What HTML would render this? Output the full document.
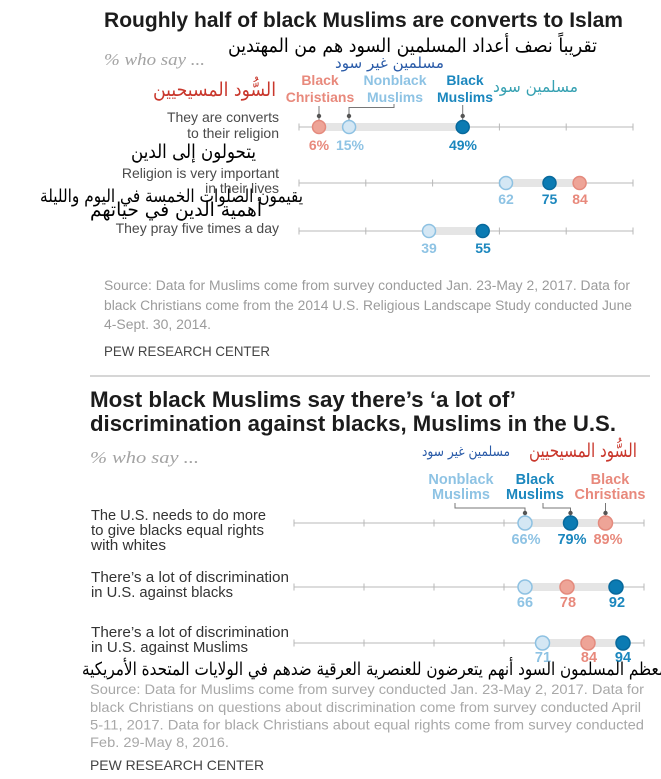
<!DOCTYPE html>
<html><head><meta charset="utf-8"><style>
html,body{margin:0;padding:0;background:#fff;}
svg{display:block;}
</style></head><body>
<svg width="661" height="779" viewBox="0 0 661 779" xmlns="http://www.w3.org/2000/svg" font-family="'Liberation Sans', sans-serif">
<rect width="661" height="779" fill="#fff"/>

<!-- ===== TOP CHART ===== -->
<text x="104" y="27" font-size="21" font-weight="bold" fill="#1c1c1c" textLength="519" lengthAdjust="spacingAndGlyphs">Roughly half of black Muslims are converts to Islam</text>
<text x="104" y="65" font-family="'Liberation Serif', serif" font-style="italic" font-size="17" fill="#a3a3a3" textLength="101" lengthAdjust="spacingAndGlyphs">% who say ...</text>

<!-- legend labels -->
<g font-size="14" font-weight="bold" text-anchor="middle">
<text x="320" y="85" fill="#e8897c">Black</text>
<text x="320" y="102" fill="#e8897c">Christians</text>
<text x="395" y="85" fill="#8ec3e4">Nonblack</text>
<text x="395" y="102" fill="#8ec3e4">Muslims</text>
<text x="465" y="85" fill="#1b87be">Black</text>
<text x="465" y="102" fill="#1b87be">Muslims</text>
</g>
<g stroke="#777" stroke-width="1" fill="none">
<path d="M319 106 V120"/>
<path d="M394 104 V107.5 H349 V120"/>
<path d="M462.7 105 V120"/>
</g>
<g fill="#555">
<circle cx="319" cy="116" r="2.2"/>
<circle cx="349" cy="116" r="2.2"/>
<circle cx="462.7" cy="116" r="2.2"/>
</g>

<!-- axes top -->
<g stroke="#b8b8b8" stroke-width="1">
<line x1="299" y1="127" x2="633" y2="127"/>
<line x1="299" y1="183" x2="633" y2="183"/>
<line x1="299" y1="231" x2="633" y2="231"/>
<path d="M299 123.5V130.5 M365.8 123.5V130.5 M432.6 123.5V130.5 M499.4 123.5V130.5 M566.2 123.5V130.5 M633 123.5V130.5"/>
<path d="M299 179.5V186.5 M365.8 179.5V186.5 M432.6 179.5V186.5 M499.4 179.5V186.5 M566.2 179.5V186.5 M633 179.5V186.5"/>
<path d="M299 227.5V234.5 M365.8 227.5V234.5 M432.6 227.5V234.5 M499.4 227.5V234.5 M566.2 227.5V234.5 M633 227.5V234.5"/>
</g>
<g fill="#e5e5e5">
<rect x="319" y="123" width="143.7" height="8"/>
<rect x="506" y="179" width="73.6" height="8"/>
<rect x="429" y="227" width="53.7" height="8"/>
</g>
<!-- dots top -->
<g stroke-width="1.5">
<circle cx="319" cy="127" r="6.5" fill="#eea497" stroke="#e48a7d"/>
<circle cx="349.1" cy="127" r="6.5" fill="#d4e7f4" stroke="#8dc1e2"/>
<circle cx="462.7" cy="127" r="6.5" fill="#0b7bb3" stroke="#08699c"/>
<circle cx="506" cy="183" r="6.5" fill="#d4e7f4" stroke="#8dc1e2"/>
<circle cx="549.5" cy="183" r="6.5" fill="#0b7bb3" stroke="#08699c"/>
<circle cx="579.6" cy="183" r="6.5" fill="#eea497" stroke="#e48a7d"/>
<circle cx="429" cy="231" r="6.5" fill="#d4e7f4" stroke="#8dc1e2"/>
<circle cx="482.7" cy="231" r="6.5" fill="#0b7bb3" stroke="#08699c"/>
</g>
<g font-size="14" font-weight="bold" text-anchor="middle">
<text x="319" y="150" fill="#e8897c">6%</text>
<text x="350" y="150" fill="#8ec3e4">15%</text>
<text x="463" y="150" fill="#1b87be">49%</text>
<text x="506" y="204" fill="#8ec3e4">62</text>
<text x="549.5" y="204" fill="#1b87be">75</text>
<text x="580" y="204" fill="#e8897c">84</text>
<text x="429" y="253" fill="#8ec3e4">39</text>
<text x="483" y="253" fill="#1b87be">55</text>
</g>
<!-- row labels top -->
<g font-size="14" fill="#4a4a4a" text-anchor="end">
<text x="279" y="122">They are converts</text>
<text x="279" y="138">to their religion</text>
<text x="279" y="178">Religion is very important</text>
<text x="279" y="193">in their lives</text>
<text x="279" y="233">They pray five times a day</text>
</g>

<!-- arabic overlays top -->
<g font-family="'DejaVu Sans', sans-serif">
<text x="228" y="52" font-size="19" fill="#000" textLength="369" lengthAdjust="spacingAndGlyphs">تقريباً نصف أعداد المسلمين السود هم من المهتدين</text>
<text x="335" y="68" font-size="15" fill="#2a5ba8" textLength="109" lengthAdjust="spacingAndGlyphs">مسلمين غير سود</text>
<text x="153" y="96" font-size="19" fill="#c9372c" textLength="123" lengthAdjust="spacingAndGlyphs">السُّود المسيحيين</text>
<text x="493" y="92" font-size="16" fill="#36a1b2" textLength="85" lengthAdjust="spacingAndGlyphs">مسلمين سود</text>
<text x="131" y="158" font-size="19" fill="#000" textLength="125" lengthAdjust="spacingAndGlyphs">يتحولون إلى الدين</text>
<text x="40" y="202" font-size="18" fill="#000" textLength="263" lengthAdjust="spacingAndGlyphs">يقيمون الصلوات الخمسة في اليوم والليلة</text>
<text x="90" y="216" font-size="19" fill="#000" textLength="172" lengthAdjust="spacingAndGlyphs">أهمية الدين في حياتهم</text>
</g>

<!-- source top -->
<g font-size="13.5" fill="#9b9b9b">
<text x="104" y="290" textLength="526" lengthAdjust="spacingAndGlyphs">Source: Data for Muslims come from survey conducted Jan. 23-May 2, 2017. Data for</text>
<text x="104" y="310" textLength="528" lengthAdjust="spacingAndGlyphs">black Christians come from the 2014 U.S. Religious Landscape Study conducted June</text>
<text x="104" y="329" textLength="107" lengthAdjust="spacingAndGlyphs">4-Sept. 30, 2014.</text>
</g>
<text x="104" y="356" font-size="14" fill="#444" textLength="166" lengthAdjust="spacingAndGlyphs">PEW RESEARCH CENTER</text>

<line x1="90" y1="376" x2="650" y2="376" stroke="#d6d6d6" stroke-width="2"/>

<!-- ===== BOTTOM CHART ===== -->
<text x="90" y="407" font-size="22" font-weight="bold" fill="#1c1c1c" textLength="426" lengthAdjust="spacingAndGlyphs">Most black Muslims say there’s ‘a lot of’</text>
<text x="90" y="431" font-size="22" font-weight="bold" fill="#1c1c1c" textLength="526" lengthAdjust="spacingAndGlyphs">discrimination against blacks, Muslims in the U.S.</text>
<text x="90" y="463" font-family="'Liberation Serif', serif" font-style="italic" font-size="17" fill="#a3a3a3" textLength="109" lengthAdjust="spacingAndGlyphs">% who say ...</text>

<g font-family="'DejaVu Sans', sans-serif">
<text x="422" y="456" font-size="14" fill="#2a5ba8" textLength="88" lengthAdjust="spacingAndGlyphs">مسلمين غير سود</text>
<text x="529" y="457" font-size="19" fill="#c9372c" textLength="108" lengthAdjust="spacingAndGlyphs">السُّود المسيحيين</text>
</g>

<g font-size="14.5" font-weight="bold" text-anchor="middle">
<text x="461" y="484" fill="#8ec3e4">Nonblack</text>
<text x="461" y="499" fill="#8ec3e4">Muslims</text>
<text x="535" y="484" fill="#1b87be">Black</text>
<text x="535" y="499" fill="#1b87be">Muslims</text>
<text x="610" y="484" fill="#e8897c">Black</text>
<text x="610" y="499" fill="#e8897c">Christians</text>
</g>
<g stroke="#777" stroke-width="1" fill="none">
<path d="M455 503 V508 H525 V516"/>
<path d="M543 503 V508 H570.5 V516"/>
<path d="M605.5 503 V516"/>
</g>
<g fill="#555">
<circle cx="525" cy="513" r="2.2"/>
<circle cx="570.5" cy="513" r="2.2"/>
<circle cx="605.5" cy="513" r="2.2"/>
</g>

<g stroke="#b8b8b8" stroke-width="1">
<line x1="294" y1="523" x2="644" y2="523"/>
<line x1="294" y1="587" x2="644" y2="587"/>
<line x1="294" y1="643" x2="644" y2="643"/>
<path d="M294 519.5V526.5 M364 519.5V526.5 M434 519.5V526.5 M504 519.5V526.5 M574 519.5V526.5 M644 519.5V526.5"/>
<path d="M294 583.5V590.5 M364 583.5V590.5 M434 583.5V590.5 M504 583.5V590.5 M574 583.5V590.5 M644 583.5V590.5"/>
<path d="M294 639.5V646.5 M364 639.5V646.5 M434 639.5V646.5 M504 639.5V646.5 M574 639.5V646.5 M644 639.5V646.5"/>
</g>
<g fill="#e5e5e5">
<rect x="525" y="519" width="80.5" height="8"/>
<rect x="525" y="583" width="91" height="8"/>
<rect x="542.5" y="639" width="80.5" height="8"/>
</g>
<g stroke-width="1.5">
<circle cx="525" cy="523" r="7" fill="#d4e7f4" stroke="#8dc1e2"/>
<circle cx="570.5" cy="523" r="7" fill="#0b7bb3" stroke="#08699c"/>
<circle cx="605.5" cy="523" r="7" fill="#eea497" stroke="#e48a7d"/>
<circle cx="525" cy="587" r="7" fill="#d4e7f4" stroke="#8dc1e2"/>
<circle cx="567" cy="587" r="7" fill="#eea497" stroke="#e48a7d"/>
<circle cx="616" cy="587" r="7" fill="#0b7bb3" stroke="#08699c"/>
<circle cx="542.5" cy="643" r="7" fill="#d4e7f4" stroke="#8dc1e2"/>
<circle cx="588" cy="643" r="7" fill="#eea497" stroke="#e48a7d"/>
<circle cx="623" cy="643" r="7" fill="#0b7bb3" stroke="#08699c"/>
</g>
<g font-size="14.5" font-weight="bold" text-anchor="middle">
<text x="526" y="544" fill="#8ec3e4">66%</text>
<text x="572" y="544" fill="#1b87be">79%</text>
<text x="608" y="544" fill="#e8897c">89%</text>
<text x="525" y="607" fill="#8ec3e4">66</text>
<text x="568" y="607" fill="#e8897c">78</text>
<text x="617" y="607" fill="#1b87be">92</text>
<text x="543" y="662" fill="#8ec3e4">71</text>
<text x="589" y="662" fill="#e8897c">84</text>
<text x="623" y="662" fill="#1b87be">94</text>
</g>

<g font-size="15" fill="#333">
<text x="91" y="520" textLength="175" lengthAdjust="spacingAndGlyphs">The U.S. needs to do more</text>
<text x="91" y="535" textLength="173" lengthAdjust="spacingAndGlyphs">to give blacks equal rights</text>
<text x="91" y="550" textLength="75" lengthAdjust="spacingAndGlyphs">with whites</text>
<text x="91" y="582" textLength="198" lengthAdjust="spacingAndGlyphs">There’s a lot of discrimination</text>
<text x="91" y="597" textLength="142" lengthAdjust="spacingAndGlyphs">in U.S. against blacks</text>
<text x="91" y="637" textLength="198" lengthAdjust="spacingAndGlyphs">There’s a lot of discrimination</text>
<text x="91" y="652" textLength="157" lengthAdjust="spacingAndGlyphs">in U.S. against Muslims</text>
</g>

<text x="82" y="675" font-family="'DejaVu Sans', sans-serif" font-size="18" fill="#000" textLength="585" lengthAdjust="spacingAndGlyphs">معظم المسلمون السود أنهم يتعرضون للعنصرية العرقية ضدهم في الولايات المتحدة الأمريكية</text>

<g font-size="14" fill="#a8a8a8">
<text x="90" y="694" textLength="554" lengthAdjust="spacingAndGlyphs">Source: Data for Muslims come from survey conducted Jan. 23-May 2, 2017. Data for</text>
<text x="90" y="712" textLength="551" lengthAdjust="spacingAndGlyphs">black Christians on questions about discrimination come from survey conducted April</text>
<text x="90" y="729.5" textLength="554" lengthAdjust="spacingAndGlyphs">5-11, 2017. Data for black Christians about equal rights come from survey conducted</text>
<text x="90" y="747" textLength="139" lengthAdjust="spacingAndGlyphs">Feb. 29-May 8, 2016.</text>
</g>
<text x="90" y="770" font-size="14" fill="#444" textLength="174" lengthAdjust="spacingAndGlyphs">PEW RESEARCH CENTER</text>
</svg>
</body></html>
